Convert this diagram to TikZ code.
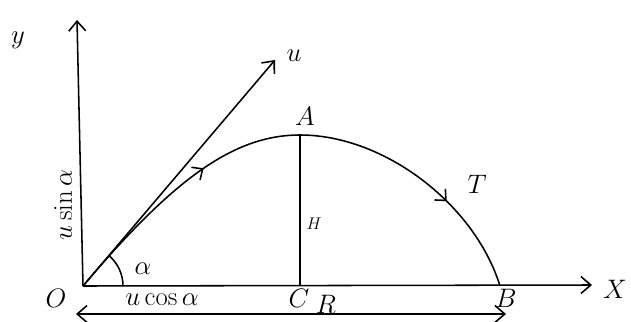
\RequirePackage{fix-cm}
\documentclass[tikz,border=0pt]{standalone}
\usetikzlibrary{arrows.meta,decorations.markings}
\begin{document}
\begin{tikzpicture}[x=0.025cm,y=-0.025cm,
  line/.style={line width=1.1pt,black},
  barb/.style={-{Straight Barb[length=7pt,width=12pt,line width=1.1pt]}},
  lbl/.style={font=\fontsize{19}{21}\selectfont},
  midbarb/.style={decoration={markings,mark=at position #1 with {\arrow{Straight Barb[length=6pt,width=11pt,line width=1.1pt]}}},postaction={decorate}}]
\useasboundingbox (0,0) rectangle (631,322);
\coordinate (O) at (83,286);
\coordinate (Ytop) at (77,20);
\coordinate (Xend) at (592,285);
\coordinate (Utip) at (275,60);
\coordinate (A) at (300,135);
\coordinate (C) at (300,286);
\coordinate (B) at (500,286);
\coordinate (RL) at (76,314);
\coordinate (RR) at (506,314);
% axes
\draw[line,barb] (O) -- (Ytop);
\draw[line,barb] (O) -- (Xend);
% velocity u
\draw[line,barb] (O) -- (Utip);
% trajectory
\draw[line,midbarb=0.62] (O) .. controls (175,177) and (235,135) .. (A);
\draw[line,midbarb=0.62] (A) .. controls (385,135) and (475,205) .. (B);
% height
\draw[line] (C) -- (A);
% angle arc
\draw[line] (123,286) arc[start angle=0,end angle=-49.7,radius=40];
% range
\draw[line,{Straight Barb[length=7pt,width=12pt,line width=1.1pt]}-{Straight Barb[length=7pt,width=12pt,line width=1.1pt]}] (RL) -- (RR);
% labels
\node[lbl] (ly) at (18,40) {$y$};
\node[lbl] (lu) at (294,56) {$u$};
\node[lbl] (lA) at (305,116) {$A$};
\node[font=\fontsize{12}{14}\selectfont] (lH) at (314,224) {$H$};
\node[lbl] (lT) at (477,184) {$T$};
\node[lbl] (lal) at (143,269) {$\alpha$};
\node[lbl] (lO) at (56,298) {$O$};
\node[lbl] (lucos) at (162,300) {$u\cos\alpha$};
\node[lbl] (lC) at (299,298) {$C$};
\node[lbl,inner sep=0pt] (lR) at (326,304) {$R$};
\node[lbl] (lB) at (506,298) {$B$};
\node[lbl] (lX) at (615,289) {$X$};
\node[lbl,rotate=90] (lusin) at (63,205) {$u\sin\alpha$};
\end{tikzpicture}
\end{document}
